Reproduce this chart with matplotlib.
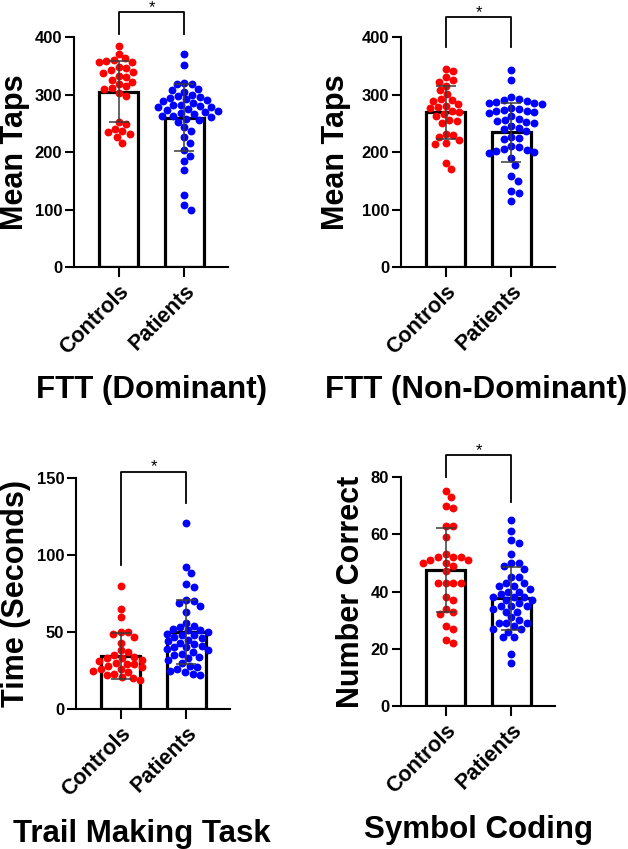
import numpy as np
import matplotlib

matplotlib.use("Agg")
import matplotlib.pyplot as plt
import matplotlib.transforms as mtransforms

plt.rcParams["font.family"] = ["Liberation Sans", "DejaVu Sans"]
plt.rcParams["font.weight"] = "bold"

groups = ["Controls", "Patients"]

# FTT dominant
ftt_dom_controls = [385, 371, 364, 360, 358, 357, 356, 348, 346, 343, 340, 338, 333, 330, 326,
                    322, 319, 314, 312, 309, 302, 298, 252, 248, 240, 236, 234, 232, 226, 216]
ftt_dom_patients = [371, 352, 320, 319, 318, 310, 308, 305, 300, 298, 296, 294, 292, 290, 288,
                    286, 282, 281, 280, 279, 278, 275, 273, 272, 270, 268, 266, 263, 262, 261,
                    258, 256, 253, 244, 236, 226, 216, 203, 193, 185, 168, 125, 107, 99]
ftt_dom_mean = [305, 260]
ftt_dom_sd = [52.5, 58.5]

# FTT non-dominant
ftt_nd_controls = [344, 341, 330, 326, 321, 315, 307, 301, 292, 290, 289, 284, 280, 278, 276,
                   271, 269, 266, 262, 256, 254, 251, 232, 229, 226, 221, 216, 214, 181, 171]
ftt_nd_patients = [343, 326, 295, 292, 290, 288, 287, 286, 285, 284, 276, 275, 273, 272, 271,
                   270, 268, 262, 258, 255, 254, 252, 250, 245, 242, 240, 236, 226, 224, 222,
                   210, 208, 205, 203, 201, 200, 198, 190, 178, 158, 150, 132, 128, 114]
ftt_nd_mean = [269, 234]
ftt_nd_sd = [46, 51]

# Trail making
tmt_controls = [80, 65, 60, 50, 50, 49, 47, 43, 38, 37, 35, 34, 33, 33, 32,
                31, 30, 29, 29, 28, 27, 26, 26, 25, 24, 23, 22, 21, 20, 19]
tmt_patients = [121, 92, 88, 81, 79, 71, 70, 69, 67, 63, 56, 54, 53, 52, 51,
                51, 50, 49, 48, 48, 47, 46, 45, 44, 43, 42, 41, 40, 40, 39,
                38, 37, 36, 35, 34, 33, 32, 30, 28, 27, 26, 25, 24, 23, 22]
tmt_mean = [34.3, 50]
tmt_sd = [15, 20.5]

# Symbol coding
sc_controls = [75, 73, 70, 69, 63, 63, 59, 53, 52, 52, 52, 51, 51, 50, 50,
               49, 47, 43, 43, 43, 43, 38, 37, 34, 33, 32, 28, 27, 23, 22]
sc_patients = [65, 61, 58, 57, 53, 50, 50, 49, 48, 45, 45, 43, 43, 42, 42,
               41, 40, 40, 39, 38, 38, 38, 37, 37, 36, 35, 35, 35, 34, 33,
               33, 31, 30, 29, 29, 29, 28, 27, 27, 26, 24, 24, 18, 15]
sc_mean = [47.4, 37.6]
sc_sd = [14.7, 11]

W, H = 628, 849
fig = plt.figure(figsize=(W / 100, H / 100), dpi=100)


def px_axes(x0, x1, y_top, y_bot):
    return fig.add_axes([x0 / W, 1 - y_bot / H, (x1 - x0) / W, (y_bot - y_top) / H])


def swarm_x(ax, xc, values, diam=7.6):
    pts = ax.transData.transform(np.column_stack([np.full(len(values), xc), values]))
    order = np.argsort(values)[::-1]
    placed = []
    dxs = np.zeros(len(values))
    step = diam * 0.1
    for i in order:
        y = pts[i, 1]
        k = 0
        while True:
            found = None
            for dx in ([0.0] if k == 0 else [k * step, -k * step]):
                if all((dx - px) ** 2 + (y - py) ** 2 >= diam ** 2 for px, py in placed):
                    found = dx
                    break
            if found is not None:
                break
            k += 1
        placed.append((found, y))
        dxs[i] = found
    x0 = ax.transData.transform((xc, 0))[0]
    back = ax.transData.inverted()
    return [back.transform((x0 + d, 0))[0] for d in dxs]


def panel(box, controls, patients, means, sds, ylim, yticks, ylabel, label_x, bracket):
    ax = px_axes(*box)
    ax.set_xlim(-0.675, 1.66)
    ax.set_ylim(*ylim)
    ax.bar([0, 1], means, width=0.6, color="white", edgecolor="black", linewidth=2.3, zorder=2)
    for xc, vals, col in [(0, controls, "#ff0000"), (1, patients, "#0000ff")]:
        xs = swarm_x(ax, xc, vals)
        ax.scatter(xs, vals, s=32, color=col, linewidths=0, zorder=3)
    ax.errorbar([0, 1], means, yerr=sds, fmt="none", ecolor="#3a3a3a", elinewidth=1.1,
                capsize=7, capthick=1.1, zorder=4)
    for side in ["top", "right"]:
        ax.spines[side].set_visible(False)
    for side in ["left", "bottom"]:
        ax.spines[side].set_linewidth(1.5)
    ax.set_yticks(yticks)
    ax.set_xticks([0, 1])
    ax.set_xticklabels(groups, rotation=45, ha="right", va="top", rotation_mode="anchor",
                       fontsize=15.5, fontweight="bold")
    ax.tick_params(axis="y", length=6.5, width=1.5, labelsize=12, pad=2)
    ax.tick_params(axis="x", length=7, width=1.5, pad=3)
    ax.set_ylabel(ylabel, fontsize=22, fontweight="bold")
    ax.yaxis.set_label_coords(label_x / W, 0.5,
                              transform=mtransforms.blended_transform_factory(fig.transFigure, ax.transAxes))
    lo_left, top, lo_right = bracket
    ax.plot([0, 0, 1, 1], [lo_left, top, top, lo_right], color="black", lw=1.3, clip_on=False)
    ax.annotate("*", (0.5, top), xytext=(0, -2), textcoords="offset points",
                ha="center", va="bottom", fontsize=12, fontweight="normal",
                annotation_clip=False)
    return ax


panel((74, 228, 37, 267), ftt_dom_controls, ftt_dom_patients, ftt_dom_mean, ftt_dom_sd,
      (0, 400), [0, 100, 200, 300, 400], "Mean Taps", 30, (405, 443, 405))
panel((401, 555, 37, 267), ftt_nd_controls, ftt_nd_patients, ftt_nd_mean, ftt_nd_sd,
      (0, 400), [0, 100, 200, 300, 400], "Mean Taps", 351, (383, 435, 383))
panel((76, 230, 478, 709), tmt_controls, tmt_patients, tmt_mean, tmt_sd,
      (0, 150), [0, 50, 100, 150], "Time (Seconds)", 31, (93.5, 154, 134))
panel((401, 555, 477, 706), sc_controls, sc_patients, sc_mean, sc_sd,
      (0, 80), [0, 20, 40, 60, 80], "Number Correct", 366, (80, 87.7, 71.3))

titles = ["FTT (Dominant)", "FTT (Non-Dominant)", "Trail Making Task", "Symbol Coding"]
title_pos = [(152, 398), (476, 398), (142, 842), (479, 838)]
for t, (tx, ty) in zip(titles, title_pos):
    fig.text(tx / W, 1 - ty / H, t, ha="center", va="baseline", fontsize=22.5, fontweight="bold")

fig.savefig("out.png", dpi=100)
